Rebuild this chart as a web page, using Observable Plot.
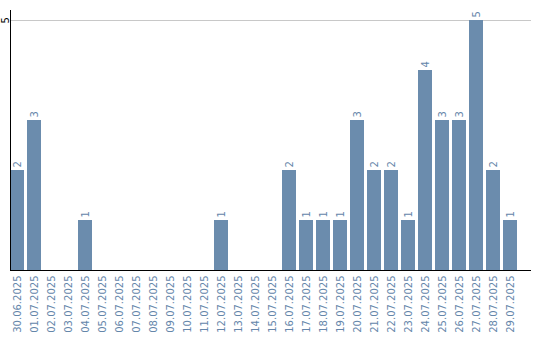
<!DOCTYPE html>
<html>
<head>
<meta charset="utf-8">
<script src="https://cdn.jsdelivr.net/npm/d3@7"></script>
<script src="https://cdn.jsdelivr.net/npm/@observablehq/plot@0.6"></script>
<style>
  body { margin: 0; background: #fff; }
  #chart svg { display: block; }
</style>
</head>
<body>
<div id="chart"></div>
<script>
const dates = [
  "30.06.2025","01.07.2025","02.07.2025","03.07.2025","04.07.2025","05.07.2025",
  "06.07.2025","07.07.2025","08.07.2025","09.07.2025","10.07.2025","11.07.2025",
  "12.07.2025","13.07.2025","14.07.2025","15.07.2025","16.07.2025","17.07.2025",
  "18.07.2025","19.07.2025","20.07.2025","21.07.2025","22.07.2025","23.07.2025",
  "24.07.2025","25.07.2025","26.07.2025","27.07.2025","28.07.2025","29.07.2025"
];
const counts = [2,3,0,0,1,0,0,0,0,0,0,0,1,0,0,0,2,1,1,1,3,2,2,1,4,3,3,5,2,1];
const yTicks = [5];

const data = dates.map((d, i) => ({date: d, count: counts[i]}));
const labelled = data.filter(d => d.count > 0);

const barColor = "#6b8cad";
const textColor = "#6586aa";

const chart = Plot.plot({
  width: 540,
  height: 340,
  marginLeft: 10,
  marginRight: 23,
  marginTop: 10,
  marginBottom: 70,
  style: {fontFamily: "DejaVu Sans", fontSize: "10px", background: "#fff"},
  x: {domain: dates, paddingInner: 3/17, paddingOuter: 0, label: null, axis: null},
  y: {domain: [0, 5.2], label: null, axis: null},
  marks: [
    Plot.ruleY(yTicks, {stroke: "#c8c8c8", insetRight: -14}),
    Plot.barY(data, {x: "date", y: "count", fill: barColor}),
    Plot.text(labelled, {x: "date", y: "count", text: d => String(d.count), rotate: -90, textAnchor: "start", dy: -3, fill: textColor, fontSize: 10}),
    Plot.axisX({tickSize: 0, tickPadding: 5, tickRotate: -90, color: textColor, fill: textColor, fontSize: 10, label: null}),
    Plot.text(yTicks, {y: d => d, frameAnchor: "left", dx: -5, dy: 3, rotate: -90, text: d => String(d), fill: "#000", fontSize: 10}),
    Plot.ruleY([0], {stroke: "#000", insetRight: -14}),
    Plot.frame({anchor: "left", stroke: "#000"})
  ]
});
document.getElementById("chart").appendChild(chart);
</script>
</body>
</html>
